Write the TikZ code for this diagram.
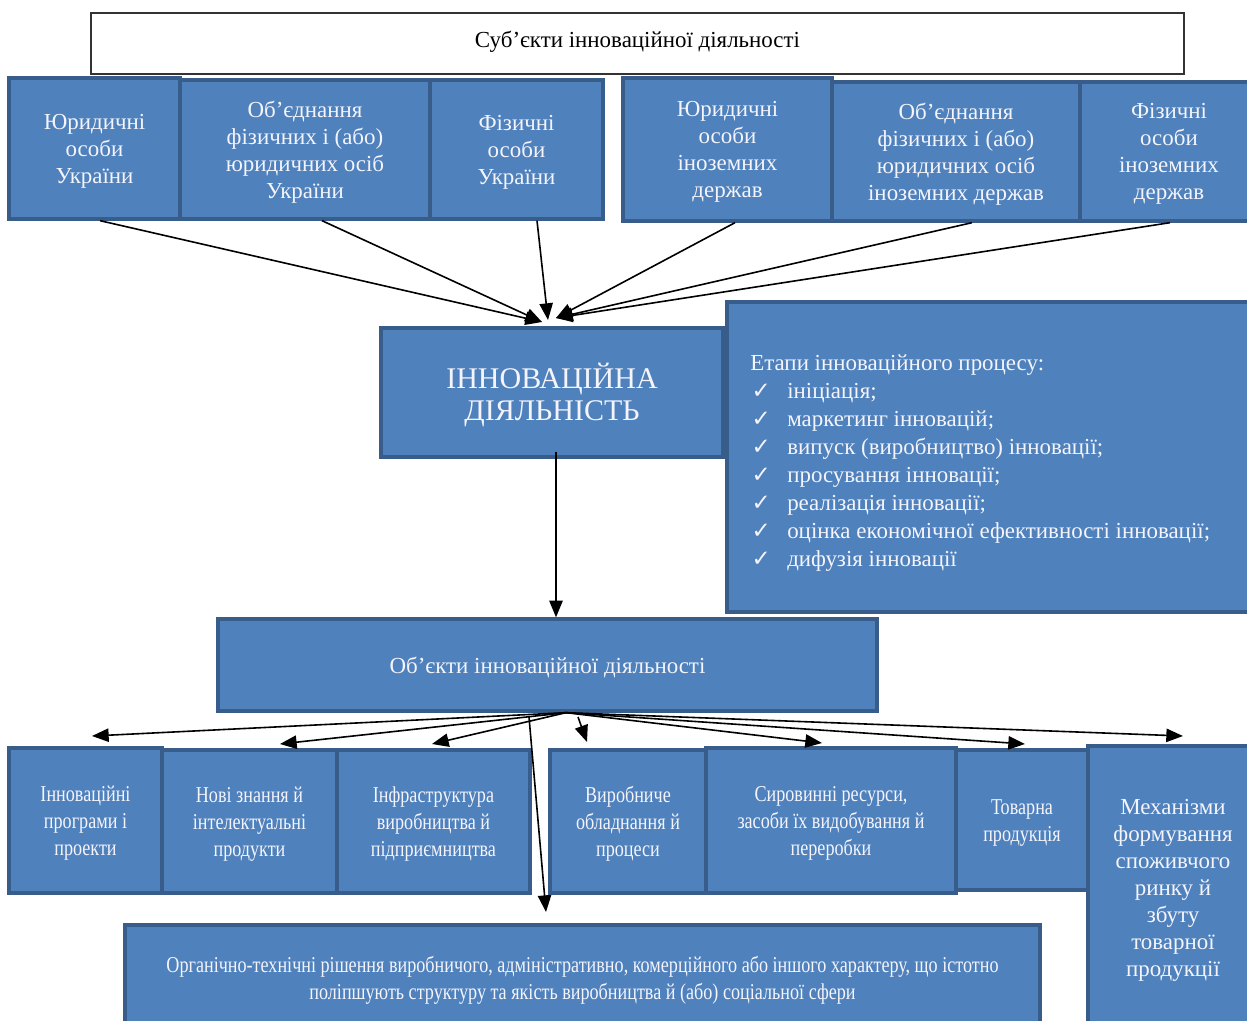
\documentclass[tikz,border=0pt]{standalone}
\usepackage{fontspec}
\setmainfont{Liberation Serif}
\newfontfamily\condfont{Liberation Serif}[FakeStretch=0.8]
\newfontfamily\symfont{DejaVu Sans}
\usetikzlibrary{arrows.meta,fit,calc}
\definecolor{boxfill}{HTML}{4F81BD}
\definecolor{boxline}{HTML}{385D8A}
\definecolor{boxtext}{HTML}{F4F4FA}
\newcommand\chk{\makebox[27.75pt][l]{\hspace{1pt}\symfont ✓}}
\tikzset{
  box/.style={draw=boxline, fill=boxfill, line width=2.5pt, inner sep=0pt},
  txt/.style={text=boxtext, align=center, inner sep=0pt, yshift=-2pt, font=\fontsize{17.2}{20.25}\selectfont},
  ctxt/.style={txt, font=\condfont\fontsize{17}{20.25}\selectfont},
  arr/.style={line width=1.2pt, -{Triangle[length=12.5pt,width=10pt]}},
}
\begin{document}
\begin{tikzpicture}[x=0.75pt,y=-0.75pt]
\useasboundingbox (0,0) rectangle (1247,1021);
% title
\node[draw=black!80, line width=0.9pt, fill=white, inner sep=0pt, fit={(91,13) (1184,74)}] (title) {};
\node[txt, text=black, yshift=3pt] (titlet) at (title.center) {Суб’єкти інноваційної діяльності};
% subjects
\node[box, fit={(9,78) (180,219)}] (u1) {};
\node[box, fit={(180,80) (430,219)}] (u2) {};
\node[box, fit={(430,80) (603,219)}] (u3) {};
\node[box, fit={(623,78) (832,221)}] (f1) {};
\node[box, fit={(832,82) (1080,221)}] (f2) {};
\node[box, fit={(1080,82) (1258,221)}] (f3) {};
\node[txt] (u1t) at (u1.center) {Юридичні\\особи\\України};
\node[txt] (u2t) at (u2.center) {Об’єднання\\фізичних і (або)\\юридичних осіб\\України};
\node[txt] (u3t) at (u3.center) {Фізичні\\особи\\України};
\node[txt] (f1t) at (f1.center) {Юридичні\\особи\\іноземних\\держав};
\node[txt] (f2t) at (f2.center) {Об’єднання\\фізичних і (або)\\юридичних осіб\\іноземних держав};
\node[txt] (f3t) at (f3.center) {Фізичні\\особи\\іноземних\\держав};
% central
\node[box, fit={(381,328) (723,457)}] (inn) {};
\node[txt, font=\fontsize{22.5}{24}\selectfont] (innt) at (inn.center) {ІННОВАЦІЙНА\\ДІЯЛЬНІСТЬ};
\node[box, fit={(727,302) (1258,612)}] (st) {};
\node[txt, align=left, anchor=west, yshift=0pt, font=\fontsize{17.2}{21}\selectfont] (stt) at (750,460) {Етапи інноваційного процесу:\\
\chk ініціація;\\
\chk маркетинг інновацій;\\
\chk випуск (виробництво) інновації;\\
\chk просування інновації;\\
\chk реалізація інновації;\\
\chk оцінка економічної ефективності інновації;\\
\chk дифузія інновації};
% objects
\node[box, fit={(218,619) (877,711)}] (obj) {};
\node[txt] (objt) at (obj.center) {Об’єкти інноваційної діяльності};
\node[box, fit={(9,748) (162,893)}] (b1) {};
\node[box, fit={(162,750) (337,893)}] (b2) {};
\node[box, fit={(337,750) (530,893)}] (b3) {};
\node[box, fit={(550,750) (706,893)}] (b4) {};
\node[box, fit={(706,748) (956,893)}] (b5) {};
\node[box, fit={(956,750) (1088,890)}] (b6) {};
\node[box, fit={(1088,746) (1258,1030)}] (b7) {};
\node[box, fit={(125,925) (1040,1030)}] (b8) {};
\node[ctxt] (b1t) at (b1.center) {Інноваційні\\програми і\\проекти};
\node[ctxt] (b2t) at (b2.center) {Нові знання й\\інтелектуальні\\продукти};
\node[ctxt] (b3t) at (b3.center) {Інфраструктура\\виробництва й\\підприємництва};
\node[ctxt] (b4t) at (b4.center) {Виробниче\\обладнання й\\процеси};
\node[ctxt] (b5t) at (b5.center) {Сировинні ресурси,\\засоби їх видобування й\\переробки};
\node[ctxt] (b6t) at (b6.center) {Товарна\\продукція};
\node[txt] (b7t) at (b7.center) {Механізми\\формування\\споживчого\\ринку й\\збуту\\товарної\\продукції};
\node[ctxt] (b8t) at (b8.center) {Органічно-технічні рішення виробничого, адміністративно, комерційного або іншого характеру, що істотно\\поліпшують структуру та якість виробництва й (або) соціальної сфери};
% coordinates
\coordinate (h1) at (542,322);
\coordinate (h2) at (548,320);
\coordinate (h3) at (556,318);
\coordinate (os) at ($(obj.south)+(18.5,0)$);
\coordinate (t1) at (92,736);
\coordinate (t2) at (280,744);
\coordinate (t3) at (432,744);
\coordinate (t4) at (822,743);
\coordinate (t5) at (1025,744);
\coordinate (t6) at (1183,736);
\coordinate (ls) at (529,717);
\coordinate (le) at (546,912);
\coordinate (ss) at (578,717);
\coordinate (se) at (587,742);
% arrows
\draw[arr] ($(u1.south)+(5.5,0)$) -- (h1);
\draw[arr] ($(u2.south)+(17,0)$) -- (h1);
\draw[arr] ($(u3.south)+(20.5,0)$) -- (h2);
\draw[arr] ($(f1.south)+(7.5,0)$) -- (h3);
\draw[arr] ($(f2.south)+(16,0)$) -- (h3);
\draw[arr] ($(f3.south)+(1,0)$) -- (h3);
\draw[arr] ($(inn.south)+(4,-7)$) -- ($(obj.north)+(8.5,0)$);
\foreach \t in {t1,t2,t3,t4,t5,t6} \draw[arr] (os) -- (\t);
\draw[arr] (ls) -- (le);
\draw[arr] (ss) -- (se);
\end{tikzpicture}
\end{document}
